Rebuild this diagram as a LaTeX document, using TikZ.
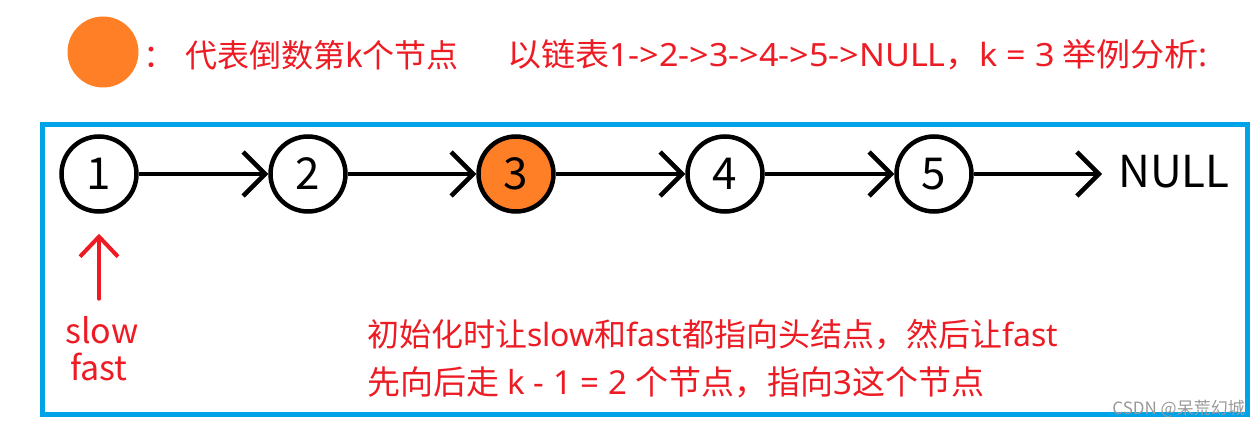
\documentclass[tikz,border=0pt]{standalone}
\usepackage{fontspec}
\setmainfont{Noto Sans CJK SC}
\newfontfamily\lat{Noto Sans}
\usetikzlibrary{arrows.meta}
\definecolor{myred}{HTML}{ED1C24}
\definecolor{myorange}{HTML}{FF7F27}
\definecolor{myblue}{HTML}{00A2E8}
\begin{document}
\begin{tikzpicture}[x=1pt,y=-1pt,
  nd/.style={circle,draw=black,line width=4.5pt,minimum size=75pt,inner sep=0pt,font=\fontsize{44}{50}\selectfont},
  link/.style={line width=4.5pt,-{Straight Barb[length=22pt,width=44pt]}},
  redtxt/.style={text=myred,font=\fontsize{32}{40}\selectfont,inner sep=0pt},
  blocktxt/.style={text=myred,font=\fontsize{33}{40}\selectfont,inner sep=0pt,anchor=west},
]
\useasboundingbox[fill=white] (0,0) rectangle (1258,430);
% legend
\node[circle,fill=myorange,minimum size=71pt,inner sep=0pt] (legend) at (103,52) {};
\node[redtxt,anchor=west] (leg) at (143,55) {：\hspace{10pt}代表倒数第k个节点};
\node[redtxt,anchor=west] (ex) at (507,55) {\scalebox{1.065}[1]{以链表{\lat 1->2->3->4->5->NULL}，{\lat k = 3} 举例分析{\lat :}}};
% frame
\draw[myblue,line width=5pt] (42.5,124.5) rectangle (1247.5,414.5);
% list
\node[nd] (n1) at (99,174) {1};
\node[nd] (n2) at (308,174) {2};
\node[nd,fill=myorange] (n3) at (516,174) {3};
\node[nd] (n4) at (725,174) {4};
\node[nd] (n5) at (934,174) {5};
\coordinate (nullend) at (1102,174);
\node[font=\fontsize{44}{50}\selectfont,inner sep=0pt,anchor=west] (null) at (1118,172) {NULL};
\draw[link] (n1) -- (n2);
\draw[link] (n2) -- (n3);
\draw[link] (n3) -- (n4);
\draw[link] (n4) -- (n5);
\draw[link] (n5) -- (nullend);
% pointers
\node[redtxt,font=\fontsize{34}{40}\selectfont] (slow) at (102,330) {slow};
\node[redtxt,font=\fontsize{34}{40}\selectfont] (fast) at (99,367) {fast};
\draw[myred,line width=4pt,line cap=round,-{Straight Barb[length=20pt,width=38pt]}]
  ([yshift=-85pt]n1.south) -- ([yshift=-20pt]n1.south);
% explanation
\node[blocktxt,font=\fontsize{32}{40}\selectfont] (l1) at (367,335) {初始化时让{\lat slow}和{\lat fast}都指向头结点，然后让{\lat fast}};
\node[blocktxt] (l2) at (367,382) {先向后走{\lat\ k - 1 = 2 }个节点，指向{\lat 3}这个节点};
% watermark
\node[text=black!40,font=\fontsize{17}{20}\selectfont,inner sep=0pt,anchor=east] (wm) at (1245,409) {CSDN @呆荒幻城};
\end{tikzpicture}
\end{document}
